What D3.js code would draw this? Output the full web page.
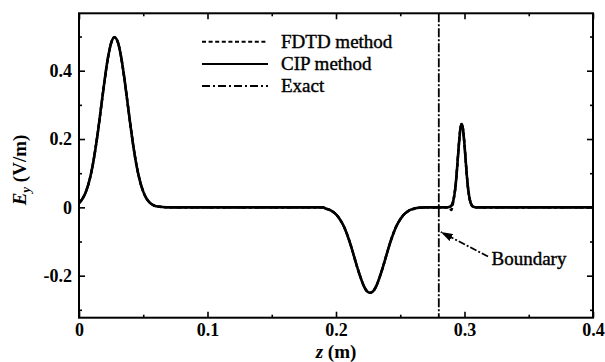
<!DOCTYPE html>
<html>
<head>
<meta charset="utf-8">
<script src="https://cdn.jsdelivr.net/npm/d3@7"></script>
<style>
  body { margin: 0; background: #fff; }
  text { font-family: "Liberation Serif", "Times New Roman", serif; fill: #000; }
</style>
</head>
<body>
<div id="chart"></div>
<script>
// sample positions along z (m)
var zValues = [0, 0.0025, 0.005, 0.0075, 0.01, 0.0125, 0.015, 0.0175, 0.02, 0.0225, 0.025, 0.0275, 0.03, 0.0325, 0.035, 0.0375, 0.04, 0.0425, 0.045, 0.0475, 0.05, 0.0525, 0.055, 0.0575, 0.06, 0.065, 0.07,
  0.1, 0.15, 0.19,
  0.1915, 0.194, 0.1965, 0.199, 0.2015, 0.204, 0.2065, 0.209, 0.2115, 0.214, 0.2165, 0.219, 0.2215, 0.224, 0.2265, 0.229, 0.2315, 0.234, 0.2365, 0.239, 0.2415, 0.244, 0.2465, 0.249, 0.2515, 0.254, 0.2565, 0.259, 0.2615, 0.265, 0.27,
  0.275, 0.28,
  0.2858, 0.2868, 0.2878, 0.2888, 0.2898, 0.2908, 0.2918, 0.2928, 0.2938, 0.2948, 0.2958, 0.2968, 0.2978, 0.2988, 0.2998, 0.3008, 0.3018, 0.3028, 0.3038, 0.3048, 0.3058, 0.3068, 0.3078, 0.3088, 0.3098,
  0.32, 0.35, 0.4]

var fdtdEy = [0.012, 0.024, 0.042, 0.070, 0.110, 0.164, 0.229, 0.302, 0.374, 0.437, 0.481, 0.498, 0.486, 0.446, 0.386, 0.314, 0.241, 0.174, 0.118, 0.076, 0.046, 0.026, 0.014, 0.007, 0.003, 0.001, 0,
  0, 0, 0,
  -0.003, -0.006, -0.010, -0.017, -0.027, -0.041, -0.059, -0.083, -0.111, -0.143, -0.175, -0.204, -0.229, -0.245, -0.250, -0.245, -0.229, -0.204, -0.175, -0.143, -0.111, -0.083, -0.059, -0.041, -0.027, -0.017, -0.010, -0.006, -0.003, -0.001, 0,
  0, 0,
  0, 0, 0, -0.004, -0.008, 0.006, 0.029, 0.055, 0.094, 0.143, 0.192, 0.230, 0.244, 0.230, 0.192, 0.143, 0.094, 0.055, 0.029, 0.013, 0.005, 0.002, 0.001, 0, 0,
  0, 0, 0]

var cipEy = [0.012, 0.024, 0.042, 0.070, 0.110, 0.164, 0.229, 0.302, 0.374, 0.437, 0.481, 0.498, 0.486, 0.446, 0.386, 0.314, 0.241, 0.174, 0.118, 0.076, 0.046, 0.026, 0.014, 0.007, 0.003, 0.001, 0,
  0, 0, 0,
  -0.003, -0.006, -0.010, -0.017, -0.027, -0.041, -0.059, -0.083, -0.111, -0.143, -0.175, -0.204, -0.229, -0.245, -0.250, -0.245, -0.229, -0.204, -0.175, -0.143, -0.111, -0.083, -0.059, -0.041, -0.027, -0.017, -0.010, -0.006, -0.003, -0.001, 0,
  0, 0,
  0, 0, 0.001, 0.002, 0.005, 0.013, 0.029, 0.055, 0.094, 0.143, 0.192, 0.230, 0.244, 0.230, 0.192, 0.143, 0.094, 0.055, 0.029, 0.013, 0.005, 0.002, 0.001, 0, 0,
  0, 0, 0]

var exactEy = [0.012, 0.024, 0.042, 0.070, 0.110, 0.164, 0.229, 0.302, 0.374, 0.437, 0.481, 0.498, 0.486, 0.446, 0.386, 0.314, 0.241, 0.174, 0.118, 0.076, 0.046, 0.026, 0.014, 0.007, 0.003, 0.001, 0,
  0, 0, 0,
  -0.003, -0.006, -0.010, -0.017, -0.027, -0.041, -0.059, -0.083, -0.111, -0.143, -0.175, -0.204, -0.229, -0.245, -0.250, -0.245, -0.229, -0.204, -0.175, -0.143, -0.111, -0.083, -0.059, -0.041, -0.027, -0.017, -0.010, -0.006, -0.003, -0.001, 0,
  0, 0,
  0, 0, 0.001, 0.002, 0.005, 0.013, 0.029, 0.055, 0.094, 0.143, 0.192, 0.230, 0.244, 0.230, 0.192, 0.143, 0.094, 0.055, 0.029, 0.013, 0.005, 0.002, 0.001, 0, 0,
  0, 0, 0]

var seriesNames = ['FDTD method', 'CIP method', 'Exact']
var xTicks = [0, 0.1, 0.2, 0.3, 0.4]
var xTickLabels = ['0', '0.1', '0.2', '0.3', '0.4']
var xMinorTicks = [0.05, 0.15, 0.25, 0.35]
var yTicks = [-0.2, 0, 0.2, 0.4]
var yTickLabels = ['-0.2', '0', '0.2', '0.4']
var yMinorTicks = [-0.3, -0.1, 0.1, 0.3, 0.5]
var boundaryZ = 0.28
var boundaryLabel = 'Boundary'

var margin = { top: 13.3, right: 12, bottom: 44.3, left: 79 }
var totalW = 605, totalH = 362
var width = totalW - margin.left - margin.right
var height = totalH - margin.top - margin.bottom

var x = d3.scaleLinear().domain([0, 0.4]).range([0, width])
var y = d3.scaleLinear().domain([-0.323, 0.568]).range([height, 0])

var svg = d3.select('#chart').append('svg')
  .attr('width', totalW)
  .attr('height', totalH)
  .style('background', '#fff')

var g = svg.append('g').attr('transform', 'translate(' + margin.left + ',' + margin.top + ')')

// ticks pointing inward on all four sides
function tickAxis(axis, pos, vals, size, labels) {
  var a = axis.tickValues(vals).tickSizeInner(-size).tickSizeOuter(0).tickPadding(7)
  if (labels) a.tickFormat(function(d, i) { return labels[i] })
  else a.tickFormat('')
  var ax = g.append('g').attr('transform', pos).call(a)
  ax.select('.domain').remove()
  ax.selectAll('line').attr('stroke', '#000').attr('stroke-width', 1.6)
  ax.selectAll('text').style('font-size', '18px').style('font-family', '"Liberation Serif", serif')
  return ax
}

var xb = tickAxis(d3.axisBottom(x), 'translate(0,' + height + ')', xTicks, 6, xTickLabels)
xb.selectAll('text').attr('y', 6)
tickAxis(d3.axisBottom(x), 'translate(0,' + height + ')', xMinorTicks, 3)
tickAxis(d3.axisTop(x), 'translate(0,0)', xTicks, 6)
tickAxis(d3.axisTop(x), 'translate(0,0)', xMinorTicks, 3)
tickAxis(d3.axisLeft(y), 'translate(0,0)', yTicks, 6, yTickLabels)
tickAxis(d3.axisLeft(y), 'translate(0,0)', yMinorTicks, 3)
tickAxis(d3.axisRight(y), 'translate(' + width + ',0)', yTicks, 6)
tickAxis(d3.axisRight(y), 'translate(' + width + ',0)', yMinorTicks, 3)

// frame
g.append('rect')
  .attr('width', width).attr('height', height)
  .attr('fill', 'none').attr('stroke', '#000').attr('stroke-width', 2)

// boundary line
g.append('line')
  .attr('x1', x(boundaryZ)).attr('x2', x(boundaryZ))
  .attr('y1', 0).attr('y2', height)
  .attr('stroke', '#000').attr('stroke-width', 1.8)
  .attr('stroke-dasharray', '9,2,2,2')

var line = d3.line()
  .x(function(d) { return x(d[0]) })
  .y(function(d) { return y(d[1]) })
  .curve(d3.curveMonotoneX)

var series = [
  { name: seriesNames[2], vals: exactEy, dash: '8,3,2,3', w: 2.2 },
  { name: seriesNames[0], vals: fdtdEy, dash: '4,2.5', w: 2.4 },
  { name: seriesNames[1], vals: cipEy, dash: null, w: 2.6 }
]

series.forEach(function(s) {
  g.append('path')
    .datum(zValues.map(function(z, i) { return [z, s.vals[i]] }))
    .attr('d', line)
    .attr('fill', 'none')
    .attr('stroke', '#000')
    .attr('stroke-width', s.w)
    .attr('stroke-linejoin', 'round')
    .attr('stroke-dasharray', s.dash)
})

// legend
var legendDash = ['4,2.6', null, '8,3,2,3']
var legend = svg.append('g').attr('transform', 'translate(202,41.7)')
seriesNames.forEach(function(n, i) {
  var row = legend.append('g').attr('transform', 'translate(0,' + (i * 22.2) + ')')
  row.append('line').attr('x1', 0).attr('x2', 66).attr('y1', 0).attr('y2', 0)
    .attr('stroke', '#000').attr('stroke-width', 2)
    .attr('stroke-dasharray', legendDash[i])
  row.append('text').attr('x', 79).attr('y', 6.2)
    .style('font-size', '19px').style('stroke', '#000').style('stroke-width', 0.4)
    .text(n)
})

// boundary annotation
svg.append('defs').append('marker')
  .attr('id', 'arrow').attr('viewBox', '0 0 12 8')
  .attr('refX', 12).attr('refY', 4)
  .attr('markerWidth', 12).attr('markerHeight', 8)
  .attr('markerUnits', 'userSpaceOnUse')
  .attr('orient', 'auto')
  .append('path').attr('d', 'M0,0 L12,4 L0,8 Z').attr('fill', '#000')

svg.append('line')
  .attr('x1', 488).attr('y1', 256.5)
  .attr('x2', margin.left + x(boundaryZ) + 2).attr('y2', 232)
  .attr('stroke', '#000').attr('stroke-width', 1.8)
  .attr('stroke-dasharray', '7,2,2,2')
  .attr('marker-end', 'url(#arrow)')

svg.append('text')
  .attr('x', 491.5).attr('y', 265)
  .style('font-size', '19px').style('stroke', '#000').style('stroke-width', 0.4)
  .text(boundaryLabel)

// axis titles
svg.append('text')
  .attr('x', margin.left + width / 2).attr('y', 358)
  .attr('text-anchor', 'middle')
  .style('font-size', '19px').style('font-weight', 'bold')
  .html('<tspan font-style="italic">z</tspan> (m)')

svg.append('text')
  .attr('transform', 'translate(26,170) rotate(-90)')
  .attr('text-anchor', 'middle')
  .style('font-size', '19px').style('font-weight', 'bold')
  .html('<tspan font-style="italic">E</tspan><tspan font-style="italic" font-size="13px" dy="4">y</tspan><tspan dy="-4"> (V/m)</tspan>')

svg.selectAll('.tick text').style('font-weight', 'bold')
</script>
</body>
</html>
